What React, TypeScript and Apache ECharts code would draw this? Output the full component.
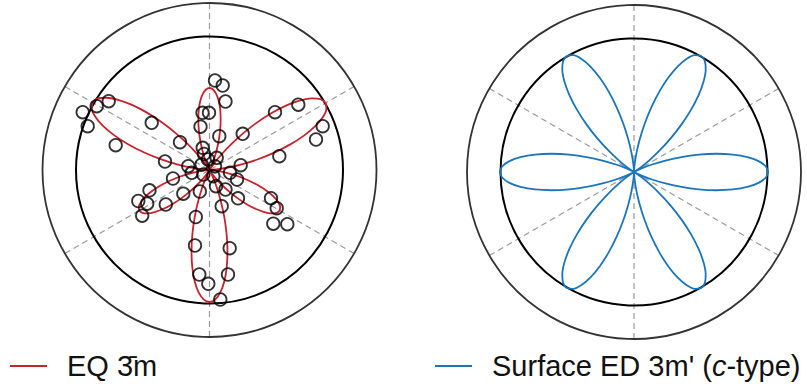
import React, { useEffect, useRef } from "react";
import * as echarts from "echarts";

// Normalised lobe profile (r / lobe length) read at 2.5 degree steps from the lobe axis
const lobeProfile = [1, 0.983, 0.933, 0.854, 0.75, 0.629, 0.5, 0.371, 0.25, 0.146, 0.067, 0.017, 0];
const profileStepDeg = 2.5;

// EQ -3m fit (left panel): lobe directions (deg, counter-clockwise from +x) and lengths (inner circle = 133.5)
const eqLobeAngles = [30, 90, 150, 210, 270, 330];
const eqLobeLengths = [134, 82, 135, 81, 132, 81];

// Surface ED 3m' (c-type) model (right panel)
const surfLobeAngles = [0, 60, 120, 180, 240, 300];
const surfLobeLengths = [134, 134, 134, 134, 134, 134];

// Measured points (left panel), same units, origin at the centre
const eqMeasuredX = [
  -126.8, -121.8, -112.8, -100.8, -57.8, -93.8, -29.5, -44.5,
  5.5, 13.2, 16, -7, -0.5, -9, 9.8, -6.8,
  65.5, 88.8, 33.2, 113.2, 106.5, 69.8, 31.2,
  -60, -71.2, -62.3, -67.3, -43.7, -36.5, -26.2, -9.7, -21.2,
  -13.7, -14.5, -10.2, -1.2, 10.8, 20.2, 18.5, 12.2,
  28.5, 61.5, 67.2, 63.8, 77.8,
  27.5, 16, 6.5,
  -5.5, 7.2, -7.8, 5.5, -17.8, -6.2, 20.5, 3.8, -1.5,
];
const eqMeasuredY = [
  57.8, 43.8, 63.8, 68.8, 47.2, 24.8, 27.8, 8.5,
  89.5, 84.5, 68.5, 57.2, 57.2, 43.3, 33.8, 22.2,
  57.8, 65.3, 36.2, 43.8, 30.5, 13.8, 4.8,
  -20.3, -31, -33.7, -45.7, -34.5, -8.5, -23.7, -21.5, 3.8,
  -47, -75.5, -104.5, -113.8, -129.5, -78.2, -104.5, -36.2,
  -28.3, -28.2, -38.2, -53.7, -54.2,
  -9.5, -19.5, -16.2,
  16, 12.2, 5.5, 3.8, -2.8, -4.5, -2.8, -6.2, 10.5,
];

const OUTER_R = 167;
const INNER_R = 133.5;
const EQ_NAME = "EQ 3\u0304m";
const SURF_NAME = "Surface ED 3m' (c-type)";
const RED = "#c8232c";
const BLUE = "#1a75bc";
const FONT = "'Liberation Sans', Arial, Helvetica, sans-serif";

// axis: startAngle 90, counter-clockwise -> axis value = math angle - 90
const toAxisAngle = (a: number) => (((a - 90) % 360) + 360) % 360;

function buildLobes(angles: number[], lengths: number[]) {
  const pts: number[][] = [];
  const n = lobeProfile.length - 1;
  angles.forEach((c, i) => {
    for (let k = -n; k < n; k++) {
      pts.push([lengths[i] * lobeProfile[Math.abs(k)], toAxisAngle(c + k * profileStepDeg)]);
    }
  });
  pts.push(pts[0]);
  return pts;
}

export default function App() {
  const ref = useRef<HTMLDivElement>(null);
  useEffect(() => {
    if (!ref.current) return;
    const chart = echarts.init(ref.current, undefined, { renderer: "svg" });
    const leftC = [209.5, 170];
    const rightC = [634, 172];
    const angleAxis = (idx: number, outer: boolean) => ({
      polarIndex: idx,
      type: "value",
      min: 0,
      max: 360,
      interval: 60,
      startAngle: 90,
      clockwise: false,
      axisLine: {
        show: true,
        lineStyle: outer ? { color: "#333", width: 1.8 } : { color: "#000", width: 2 },
      },
      axisTick: { show: false },
      axisLabel: { show: false },
      splitLine: outer
        ? { show: true, lineStyle: { color: "#999", width: 1.2, type: [6, 4] } }
        : { show: false },
    });
    const radiusAxis = (idx: number, max: number) => ({
      polarIndex: idx,
      type: "value",
      min: 0,
      max,
      axisLine: { show: false },
      axisTick: { show: false },
      axisLabel: { show: false },
      splitLine: { show: false },
    });
    const legendBase = {
      padding: 0,
      itemWidth: 37,
      itemHeight: 1.8,
      icon: "rect",
      selectedMode: false,
      top: 351,
    };
    chart.setOption({
      animation: false,
      polar: [
        { center: leftC, radius: OUTER_R },
        { center: leftC, radius: INNER_R },
        { center: rightC, radius: OUTER_R },
        { center: rightC, radius: INNER_R },
      ],
      angleAxis: [angleAxis(0, true), angleAxis(1, false), angleAxis(2, true), angleAxis(3, false)],
      radiusAxis: [
        radiusAxis(0, OUTER_R),
        radiusAxis(1, INNER_R),
        radiusAxis(2, OUTER_R),
        radiusAxis(3, INNER_R),
      ],
      grid: { left: leftC[0] - OUTER_R, top: leftC[1] - OUTER_R, width: 2 * OUTER_R, height: 2 * OUTER_R },
      xAxis: { type: "value", min: -OUTER_R, max: OUTER_R, show: false, splitLine: { show: false } },
      yAxis: { type: "value", min: -OUTER_R, max: OUTER_R, show: false, splitLine: { show: false } },
      legend: [
        {
          ...legendBase,
          left: 10,
          data: [EQ_NAME],
          textStyle: { fontSize: 29, fontFamily: FONT, color: "#111", lineHeight: 30, padding: [0, 0, 0, 15] },
        },
        {
          ...legendBase,
          left: 435,
          data: [SURF_NAME],
          formatter: () => "{n|Surface ED 3m' (}{i|c}{n|-type)}",
          textStyle: {
            fontSize: 29,
            fontFamily: FONT,
            color: "#111",
            lineHeight: 30,
            padding: [0, 0, 0, 15],
            rich: {
              n: { fontSize: 29, fontFamily: FONT, color: "#111", lineHeight: 30 },
              i: { fontSize: 29, fontFamily: FONT, color: "#111", fontStyle: "italic", lineHeight: 30 },
            },
          },
        },
      ],
      series: [
        {
          name: EQ_NAME,
          type: "line",
          coordinateSystem: "polar",
          polarIndex: 0,
          data: buildLobes(eqLobeAngles, eqLobeLengths),
          showSymbol: false,
          symbol: "none",
          smooth: 0.3,
          clip: false,
          lineStyle: { color: RED, width: 1.8 },
          itemStyle: { color: RED },
          silent: true,
          z: 3,
        },
        {
          name: "measured",
          type: "scatter",
          xAxisIndex: 0,
          yAxisIndex: 0,
          data: eqMeasuredX.map((x, i) => [x, eqMeasuredY[i]]),
          symbol: "circle",
          symbolSize: 12.5,
          itemStyle: { color: "rgba(0,0,0,0)", borderColor: "#000", borderWidth: 1.8 },
          silent: true,
          z: 4,
        },
        {
          name: SURF_NAME,
          type: "line",
          coordinateSystem: "polar",
          polarIndex: 2,
          data: buildLobes(surfLobeAngles, surfLobeLengths),
          showSymbol: false,
          symbol: "none",
          smooth: 0.3,
          clip: false,
          lineStyle: { color: BLUE, width: 1.8 },
          itemStyle: { color: BLUE },
          silent: true,
          z: 3,
        },
      ],
    });
    return () => chart.dispose();
  }, []);
  return (
    <div
      ref={ref}
      style={{ position: "fixed", left: 0, top: 0, width: 807, height: 391, background: "#fff" }}
    />
  );
}
